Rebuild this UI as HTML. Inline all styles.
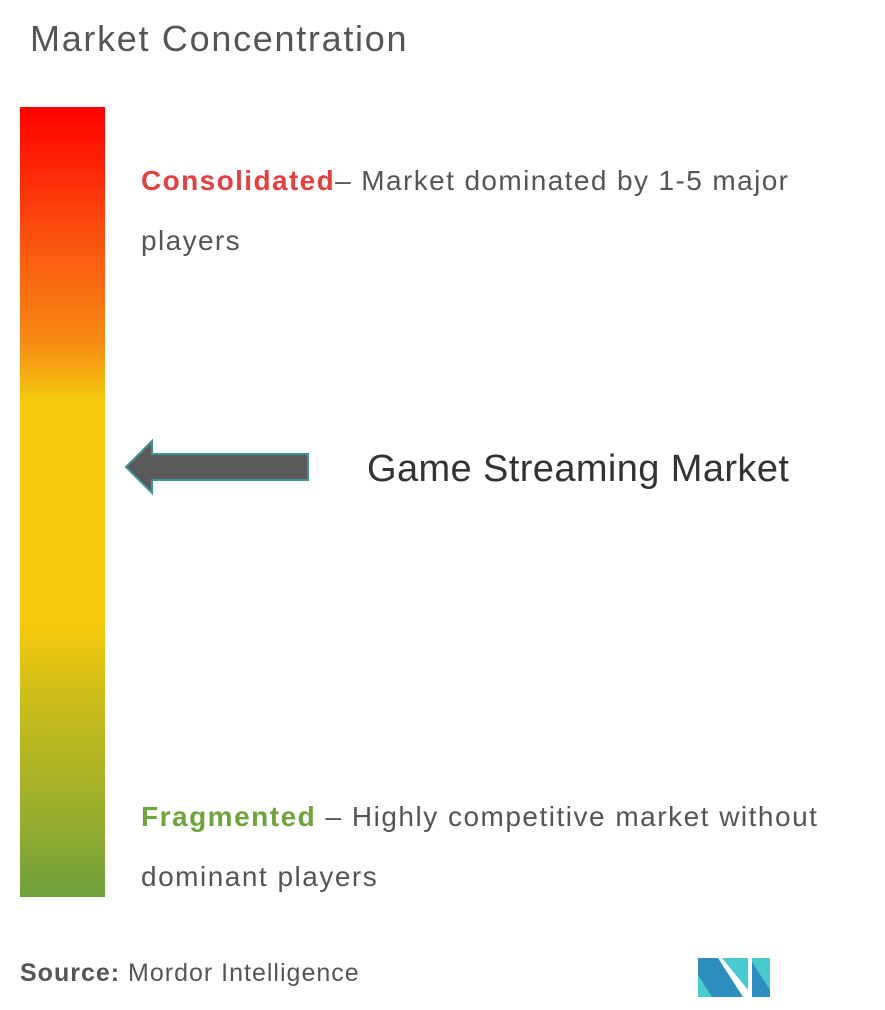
<!DOCTYPE html>
<html><head><style>
body{margin:0;width:885px;height:1010px;background:#fff;font-family:"Liberation Sans",sans-serif;position:relative;overflow:hidden}
.t{position:absolute;white-space:nowrap}
</style></head><body>
<div class="t" style="left:30px;top:18px;font-size:36px;color:#555;letter-spacing:1.7px">Market Concentration</div>
<div style="position:absolute;left:20px;top:107px;width:85px;height:790px;background:linear-gradient(to bottom,#fe0000 0%,#fb4a0e 15%,#f68c14 30%,#f4c80d 37%,#f4c80d 66%,#cbbd1a 75%,#9fb02b 88%,#6e9f3b 100%)"></div>
<div class="t" style="left:141px;top:151px;font-size:28px;color:#555;line-height:60px;letter-spacing:1.4px"><span style="color:#e34040;font-weight:bold">Consolidated</span>– Market dominated by 1-5 major<br>players</div>
<svg style="position:absolute;left:0;top:0" width="885" height="1010">
<polygon points="126,467 152,441 152,454 308,454 308,480 152,480 152,493" fill="#5a5a5a" stroke="#3a9494" stroke-width="2"/>
<polygon points="698,958 718,958 743,997 698,997" fill="#2e8ec0"/>
<polygon points="698,975 712,997 698,997" fill="#48cbd0"/>
<polygon points="722,958 748,958 748,990" fill="#48cbd0"/>
<rect x="752" y="958" width="18" height="39" fill="#48cbd0"/>
<polygon points="752,962 770,990 770,997 752,997" fill="#2e8ec0"/>
</svg>
<div class="t" style="left:367px;top:448px;font-size:38px;color:#333;letter-spacing:0.4px">Game Streaming Market</div>
<div class="t" style="left:141px;top:787px;font-size:28px;color:#555;line-height:60px;letter-spacing:1.5px"><span style="color:#6ea43c;font-weight:bold">Fragmented</span> – Highly competitive market without<br>dominant players</div>
<div class="t" style="left:20px;top:959px;font-size:25px;color:#555;letter-spacing:1px"><b>Source:</b> Mordor Intelligence</div>
</body></html>
